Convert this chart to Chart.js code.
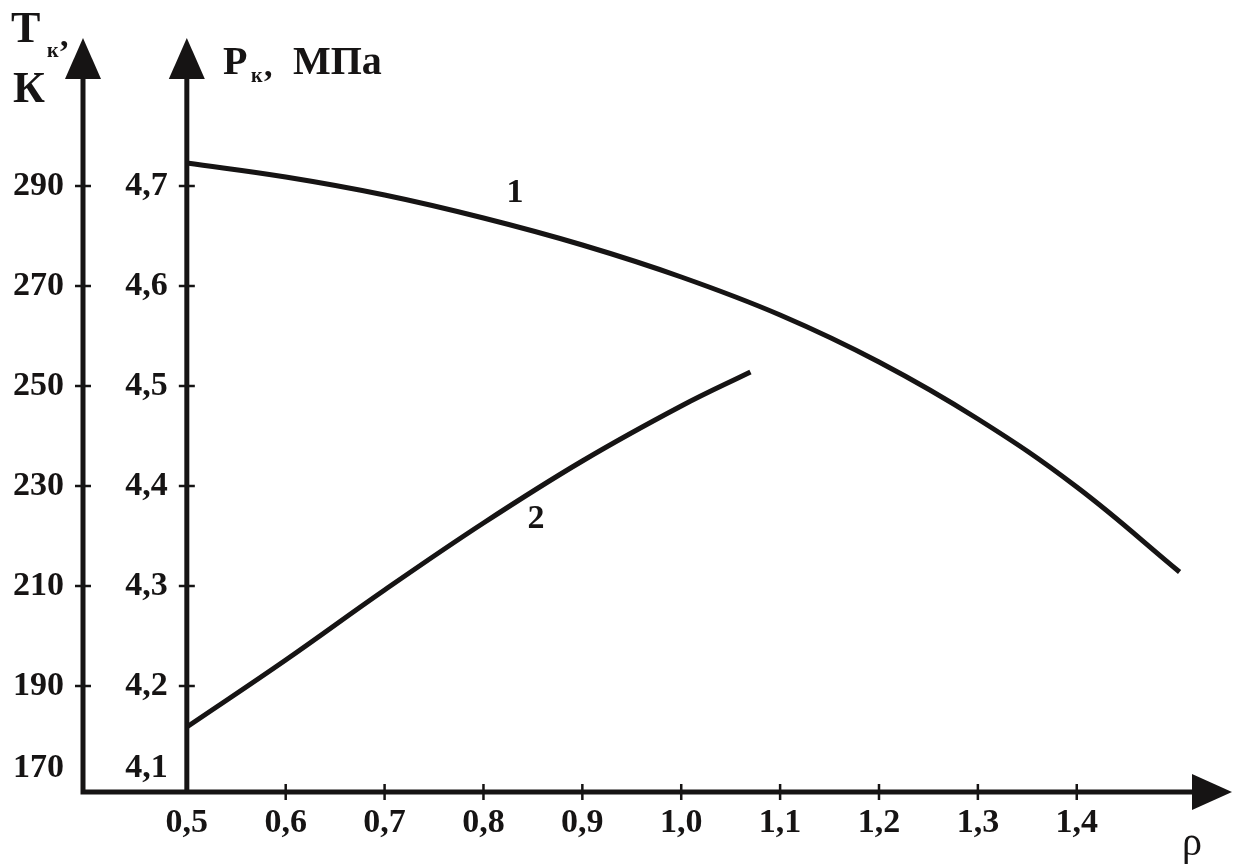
<!DOCTYPE html>
<html>
<head>
<meta charset="utf-8">
<script src="https://cdn.jsdelivr.net/npm/chart.js@4"></script>
<style>
  html, body { margin: 0; padding: 0; background: #fff; }
  #wrap { width: 1248px; height: 867px; }
</style>
</head>
<body>
<div id="wrap"><canvas id="chart" width="1248" height="867"></canvas></div>
<script>
// curve 1 and curve 2, P_k (MPa) against rho
let rho1 = [0.5, 0.6, 0.7, 0.8, 0.9, 1.0, 1.1, 1.2, 1.3, 1.4, 1.504];
let pk1 = [4.723, 4.709, 4.691, 4.668, 4.641, 4.609, 4.571, 4.524, 4.467, 4.399, 4.314];
let rho2 = [0.5, 0.6, 0.7, 0.8, 0.9, 1.0, 1.07];
let pk2 = [4.159, 4.226, 4.296, 4.363, 4.425, 4.480, 4.514];

let xTicks = [0.5, 0.6, 0.7, 0.8, 0.9, 1.0, 1.1, 1.2, 1.3, 1.4];
let xLabels = ["0,5", "0,6", "0,7", "0,8", "0,9", "1,0", "1,1", "1,2", "1,3", "1,4"];
let pTicks = [4.7, 4.6, 4.5, 4.4, 4.3, 4.2];
let pLabels = ["4,7", "4,6", "4,5", "4,4", "4,3", "4,2"];
let tLabels = ["290", "270", "250", "230", "210", "190"];

let ink = "#161414";
let bold = "bold 34px 'Liberation Serif', 'Times New Roman', serif";

function toPoints(xs, ys) {
  return xs.map((x, i) => ({ x: x, y: ys[i] }));
}

function arrow(ctx, x, y, dir) {
  ctx.beginPath();
  if (dir === "up") {
    ctx.moveTo(x, y);
    ctx.lineTo(x - 18, y + 41);
    ctx.lineTo(x + 18, y + 41);
  } else {
    ctx.moveTo(x, y);
    ctx.lineTo(x - 40, y - 18);
    ctx.lineTo(x - 40, y + 18);
  }
  ctx.closePath();
  ctx.fill();
}

let axesPlugin = {
  id: "axes",
  afterDatasetsDraw(chart) {
    let ctx = chart.ctx;
    let sx = chart.scales.x;
    let sy = chart.scales.y;
    let area = chart.chartArea;
    let xT = area.left;
    let xP = sx.getPixelForValue(0.5);
    let y0 = area.bottom;

    ctx.save();
    ctx.strokeStyle = ink;
    ctx.fillStyle = ink;
    ctx.lineWidth = 5;
    ctx.lineCap = "butt";

    // axis lines
    ctx.beginPath();
    ctx.moveTo(xT, y0 + 2.5);
    ctx.lineTo(xT, area.top + 30);
    ctx.moveTo(xP, y0);
    ctx.lineTo(xP, area.top + 30);
    ctx.moveTo(xT - 2.5, y0);
    ctx.lineTo(area.right - 30, y0);
    ctx.stroke();
    arrow(ctx, xT, area.top, "up");
    arrow(ctx, xP, area.top, "up");
    arrow(ctx, area.right, y0, "right");

    // ticks
    ctx.lineWidth = 2.5;
    ctx.beginPath();
    pTicks.forEach((v) => {
      let py = sy.getPixelForValue(v);
      ctx.moveTo(xT - 8, py);
      ctx.lineTo(xT + 8, py);
      ctx.moveTo(xP - 8, py);
      ctx.lineTo(xP + 8, py);
    });
    xTicks.slice(1).forEach((v) => {
      let px = sx.getPixelForValue(v);
      ctx.moveTo(px, y0 - 8);
      ctx.lineTo(px, y0 + 8);
    });
    ctx.stroke();

    // tick labels
    ctx.font = bold;
    ctx.textBaseline = "middle";
    ctx.textAlign = "right";
    pTicks.forEach((v, i) => {
      let py = sy.getPixelForValue(v);
      ctx.fillText(tLabels[i], xT - 19, py);
      ctx.fillText(pLabels[i], xP - 19, py);
    });
    ctx.fillText("170", xT - 19, y0 - 24);
    ctx.fillText("4,1", xP - 19, y0 - 24);
    ctx.textAlign = "center";
    xTicks.forEach((v, i) => {
      ctx.fillText(xLabels[i], sx.getPixelForValue(v), y0 + 31);
    });

    // curve numbers
    ctx.fillText("1", sx.getPixelForValue(0.832), sy.getPixelForValue(4.693));
    ctx.fillText("2", sx.getPixelForValue(0.853), sy.getPixelForValue(4.367));

    // axis titles
    ctx.textAlign = "left";
    ctx.textBaseline = "alphabetic";
    ctx.font = "bold 44px 'Liberation Serif', serif";
    ctx.fillText("Т", 11, 42);
    ctx.fillText("К", 13, 102);
    ctx.font = "bold 40px 'Liberation Serif', serif";
    ctx.fillText("Р", 223, 74);
    ctx.fillText("МПа", 293, 74);
    ctx.font = "bold 20px 'Liberation Serif', serif";
    ctx.fillText("к", 47, 57);
    ctx.fillText("к", 251, 82);
    ctx.font = "bold 34px 'Liberation Serif', serif";
    ctx.fillText(",", 60, 46);
    ctx.fillText(",", 264, 76);

    ctx.font = "40px 'Liberation Serif', serif";
    ctx.fillText("ρ", 1182, 855);
    ctx.restore();
  }
};

new Chart("chart", {
  type: "scatter",
  data: {
    datasets: [
      {
        label: "1",
        data: toPoints(rho1, pk1),
        showLine: true,
        borderColor: ink,
        borderWidth: 5,
        pointRadius: 0,
        tension: 0.4,
      },
      {
        label: "2",
        data: toPoints(rho2, pk2),
        showLine: true,
        borderColor: ink,
        borderWidth: 5,
        pointRadius: 0,
        tension: 0.4,
      },
    ],
  },
  options: {
    responsive: false,
    animation: false,
    events: [],
    layout: { padding: { left: 83, right: 16, top: 38, bottom: 75 } },
    plugins: {
      legend: { display: false },
      tooltip: { enabled: false },
    },
    scales: {
      x: { type: "linear", min: 0.395, max: 1.557, display: false },
      y: { type: "linear", min: 4.094, max: 4.848, display: false },
    },
  },
  plugins: [axesPlugin],
});
</script>
</body>
</html>
